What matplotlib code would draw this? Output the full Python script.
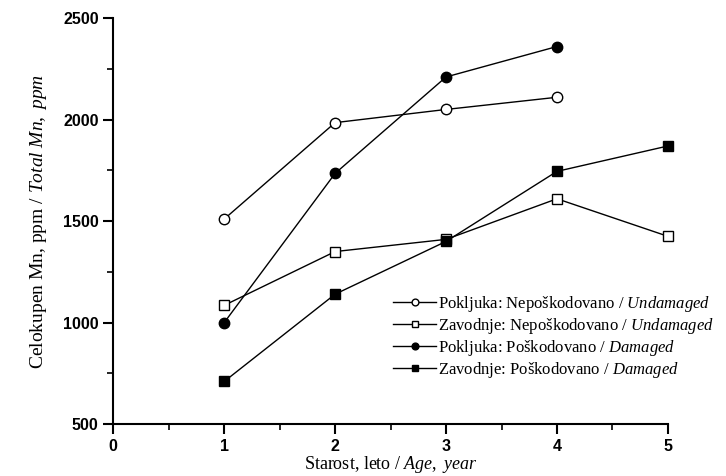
import matplotlib
matplotlib.use('Agg')
import matplotlib.pyplot as plt
from matplotlib.ticker import MultipleLocator

plt.rcParams['mathtext.fontset'] = 'custom'
plt.rcParams['mathtext.rm'] = 'Liberation Serif'
plt.rcParams['mathtext.it'] = 'Liberation Serif:italic'

# data
age_short = [1, 2, 3, 4]
age_long = [1, 2, 3, 4, 5]
pok_undamaged = [1510, 1985, 2050, 2110]
zav_undamaged = [1085, 1350, 1410, 1610, 1425]
pok_damaged = [1000, 1735, 2210, 2360]
zav_damaged = [710, 1140, 1400, 1745, 1870]

labels = [
    r'Pokljuka: Nepoškodovano / $\mathit{Undamaged}$',
    r'Zavodnje: Nepoškodovano / $\mathit{Undamaged}$',
    r'Pokljuka: Poškodovano / $\mathit{Damaged}$',
    r'Zavodnje: Poškodovano / $\mathit{Damaged}$',
]

fig = plt.figure(figsize=(7.26, 4.76), dpi=100)
ax = fig.add_axes([0.156, 0.109, 0.764, 0.853])

kw = dict(color='black', lw=1.0, ms=7.5, mec='black', mew=1.0, clip_on=False)
ax.plot(age_short, pok_undamaged, marker='o', mfc='white', label=labels[0], **kw)
ax.plot(age_long, zav_undamaged, marker='s', mfc='white', label=labels[1], **kw)
ax.plot(age_short, pok_damaged, marker='o', mfc='black', label=labels[2], **kw)
ax.plot(age_long, zav_damaged, marker='s', mfc='black', label=labels[3], **kw)

ax.set_xlim(0, 5)
ax.set_ylim(500, 2500)
ax.xaxis.set_major_locator(MultipleLocator(1))
ax.xaxis.set_minor_locator(MultipleLocator(0.5))
ax.yaxis.set_major_locator(MultipleLocator(500))
ax.yaxis.set_minor_locator(MultipleLocator(250))
ax.spines['top'].set_visible(False)
ax.spines['right'].set_visible(False)
ax.spines['left'].set_linewidth(1.5)
ax.spines['bottom'].set_linewidth(1.5)
ax.tick_params(which='major', direction='out', length=7, width=1.5)
ax.tick_params(which='minor', direction='out', length=4, width=1.2)
for t in ax.get_xticklabels() + ax.get_yticklabels():
    t.set_fontfamily('Liberation Sans')
    t.set_fontweight('bold')
    t.set_fontsize(11.5)

ax.set_xlabel(r'Starost, leto / $\mathit{Age,\ year}$', fontfamily='Liberation Serif',
              fontsize=13, labelpad=0)
ax.set_ylabel(r'Celokupen Mn, ppm / $\mathit{Total\ Mn,\ ppm}$', fontfamily='Liberation Serif',
              fontsize=14, labelpad=10)

leg = ax.legend(loc='upper left', bbox_to_anchor=(393 / 726, 1 - 294 / 476),
                bbox_transform=fig.transFigure, frameon=False,
                prop={'family': 'Liberation Serif', 'size': 12},
                handlelength=2.6, handletextpad=0.1, labelspacing=0.12,
                borderpad=0, borderaxespad=0, markerscale=0.65)

fig.savefig('out.png', dpi=100)
